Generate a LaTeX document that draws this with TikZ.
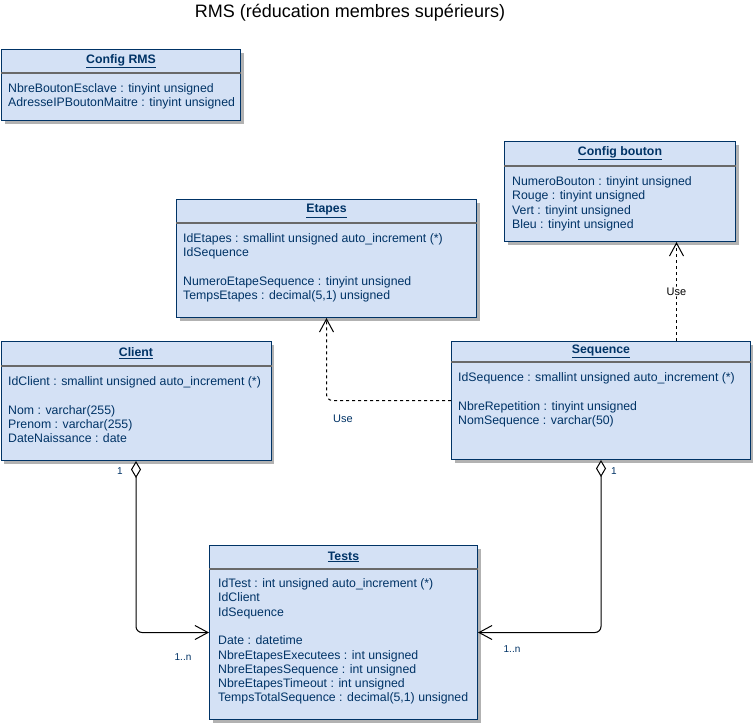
\documentclass[tikz,border=0pt]{standalone}
\usepackage{fontspec}
\setmainfont{Liberation Sans}
\definecolor{navy1}{RGB}{0, 51, 102}
\definecolor{boxfill}{RGB}{212, 225, 245}
\definecolor{sepgray}{RGB}{105, 105, 105}
\usepackage{tikz}
\usetikzlibrary{arrows.meta, positioning, calc, shadows}

\begin{document}
\begin{tikzpicture}[x=1pt, y=-1pt,
  classbox/.style={draw=navy1, fill=boxfill, line width=1pt, anchor=north west, inner sep=0pt,
    drop shadow={shadow xshift=3pt, shadow yshift=-3pt, fill=black!30, opacity=1}},
  sepline/.style={draw=sepgray, line width=1.5pt},
  classtitle/.style={font=\fontsize{12.3}{14}\selectfont\bfseries, text=navy1, inner sep=0pt},
  classattr/.style={font=\fontsize{12.3}{14.3}\selectfont, text=navy1, align=left, anchor=north west, inner sep=0pt},
  multlabel/.style={font=\fontsize{10}{12}\selectfont, text=navy1, inner sep=1pt},
  aggreg/.style={line width=1pt, rounded corners=6pt,
    {Diamond[fill=white, length=17pt, width=10pt]}-{Straight Barb[length=13pt, width=14pt]}},
  usedep/.style={line width=1pt, rounded corners=6pt, dash pattern=on 3pt off 3pt,
    -{Straight Barb[length=13pt, width=14pt]}}
]
  \fill[white] (0,0) rectangle (753,723);
  \useasboundingbox (0,0) rectangle (753,723);

  \node[font=\fontsize{18}{21}\selectfont] (title) at (350,13) {RMS (réducation membres supérieurs)};

  % Config RMS
  \node[classbox, minimum width=239pt, minimum height=71pt] (cfgrms) at (1,49) {};
  \draw[sepline] ([yshift=-24pt]cfgrms.north west) -- ([yshift=-24pt]cfgrms.north east);
  \node[classtitle] at ([yshift=-12pt]cfgrms.north) {\underline{Config RMS}};
  \node[classattr] at ([xshift=7pt, yshift=-33.3pt]cfgrms.north west) {\strut NbreBoutonEsclave : tinyint unsigned\\
    AdresseIPBoutonMaitre : tinyint unsigned};

  % Etapes
  \node[classbox, minimum width=300pt, minimum height=118pt] (etapes) at (176,199) {};
  \draw[sepline] ([yshift=-24pt]etapes.north west) -- ([yshift=-24pt]etapes.north east);
  \node[classtitle] at ([yshift=-12pt]etapes.north) {\underline{Etapes}};
  \node[classattr] at ([xshift=7pt, yshift=-33.3pt]etapes.north west) {\strut IdEtapes : smallint unsigned auto\_increment (*)\\
    IdSequence\\[14.3pt]
    NumeroEtapeSequence : tinyint unsigned\\
    TempsEtapes : decimal(5,1) unsigned};

  % Config bouton
  \node[classbox, minimum width=231pt, minimum height=100pt] (cfgbouton) at (504,141) {};
  \draw[sepline] ([yshift=-25pt]cfgbouton.north west) -- ([yshift=-25pt]cfgbouton.north east);
  \node[classtitle] at ([yshift=-12.5pt]cfgbouton.north) {\underline{Config bouton}};
  \node[classattr] at ([xshift=8pt, yshift=-34.3pt]cfgbouton.north west) {\strut NumeroBouton : tinyint unsigned\\
    Rouge : tinyint unsigned\\
    Vert : tinyint unsigned\\
    Bleu : tinyint unsigned};

  % Client
  \node[classbox, minimum width=270pt, minimum height=119pt] (client) at (0.5,341) {};
  \draw[sepline] ([yshift=-25pt]client.north west) -- ([yshift=-25pt]client.north east);
  \node[classtitle] at ([yshift=-12.5pt]client.north) {\underline{Client}};
  \node[classattr] at ([xshift=7.5pt, yshift=-34.3pt]client.north west) {\strut IdClient : smallint unsigned auto\_increment (*)\\[14.3pt]
    Nom : varchar(255)\\
    Prenom : varchar(255)\\
    DateNaissance : date};

  % Sequence
  \node[classbox, minimum width=299pt, minimum height=118pt] (sequence) at (451,341) {};
  \draw[sepline] ([yshift=-21pt]sequence.north west) -- ([yshift=-21pt]sequence.north east);
  \node[classtitle] at ([yshift=-10.5pt]sequence.north) {\underline{Sequence}};
  \node[classattr] at ([xshift=7pt, yshift=-30.3pt]sequence.north west) {\strut IdSequence : smallint unsigned auto\_increment (*)\\[14.3pt]
    NbreRepetition : tinyint unsigned\\
    NomSequence : varchar(50)};

  % Tests
  \node[classbox, minimum width=268pt, minimum height=174pt] (tests) at (209,545) {};
  \draw[sepline] ([yshift=-24pt]tests.north west) -- ([yshift=-24pt]tests.north east);
  \node[classtitle] at ([yshift=-12pt]tests.north) {\underline{Tests}};
  \node[classattr] at ([xshift=9pt, yshift=-32.3pt]tests.north west) {\strut IdTest : int unsigned auto\_increment (*)\\
    IdClient\\
    IdSequence\\[14.3pt]
    Date : datetime\\
    NbreEtapesExecutees : int unsigned\\
    NbreEtapesSequence : int unsigned\\
    NbreEtapesTimeout : int unsigned\\
    TempsTotalSequence : decimal(5,1) unsigned};

  % connectors
  \draw[aggreg] (client.south) |- (tests.west);
  \draw[aggreg] (sequence.south) |- (tests.east);
  \draw[usedep] (sequence.west) -| (etapes.south);
  \coordinate (usefoot) at ([xshift=75.5pt]sequence.north);
  \draw[usedep] (usefoot) -- (usefoot |- cfgbouton.south)
    node[midway, fill=white, inner sep=1pt, font=\fontsize{11}{13}\selectfont] (usebtn) {Use};

  \node[multlabel] (m1) at (120,471) {1};
  \node[multlabel] (m2) at (614,471) {1};
  \node[multlabel] (m3) at (183,657) {1..n};
  \node[multlabel] (m4) at (512,649) {1..n};
  \node[multlabel, font=\fontsize{11}{13}\selectfont] (useeta) at (343,419) {Use};
\end{tikzpicture}
\end{document}
